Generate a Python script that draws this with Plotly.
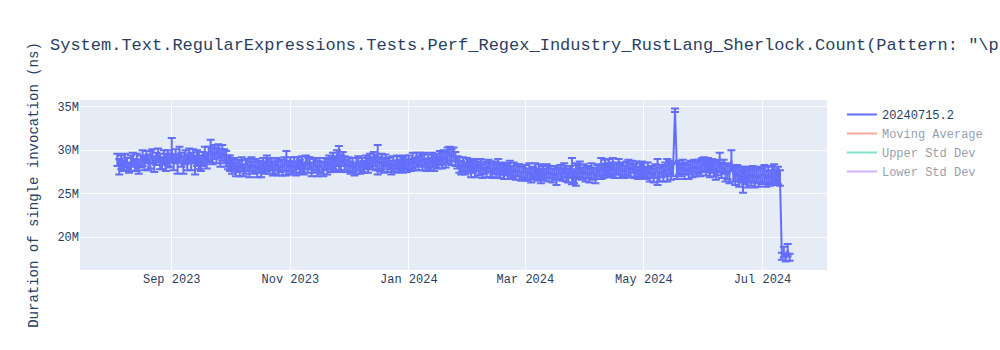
import plotly.graph_objects as go
import pandas as pd

title_text = ('System.Text.RegularExpressions.Tests.Perf_Regex_Industry_RustLang_Sherlock.Count'
              '(Pattern: "\\p{Sm}", Options: None)')
series_name = "20240715.2"

# first day of each month's daily run of measurements
month_starts = ["2023-08-04", "2023-09-01", "2023-10-01", "2023-11-01", "2023-12-01", "2024-01-01",
                "2024-02-01", "2024-03-01", "2024-04-01", "2024-05-01", "2024-06-01", "2024-07-01"]

# daily durations, millions of ns
aug = [28.9, 28.1, 28.6, 28.2, 28.8, 28.4, 28.0, 28.5, 28.9, 28.3, 28.6, 28.1, 28.7, 29.1,
       28.5, 29.2, 28.6, 28.9, 29.3, 28.4, 29.0, 29.4, 28.7, 28.5, 29.2, 28.6, 29.1, 28.8]
sep = [30.0, 28.6, 29.3, 28.4, 29.5, 28.9, 28.3, 29.2, 28.6, 29.4, 28.7, 29.3, 28.3, 29.1, 28.8,
       28.5, 29.0, 29.4, 28.8, 29.6, 29.9, 29.3, 29.8, 29.4, 29.9, 29.1, 29.7, 29.3, 29.0, 28.6]
oct_ = [28.5, 28.1, 28.4, 27.8, 28.2, 27.9, 28.4, 27.7, 28.1, 28.3, 27.8, 28.4, 28.0, 28.2, 27.8,
        28.1, 27.7, 28.3, 28.0, 28.5, 28.1, 28.4, 27.9, 28.2, 28.4, 27.9, 28.2, 28.0, 28.4, 28.5, 28.0]
nov = [28.4, 28.0, 28.3, 27.9, 28.5, 28.1, 28.4, 27.9, 28.6, 28.3, 28.5, 27.8, 28.2, 28.4, 27.9,
       28.3, 28.0, 27.8, 28.4, 28.1, 28.6, 28.3, 28.8, 28.5, 29.1, 29.0, 28.6, 29.0, 28.5, 28.2]
dec = [28.4, 28.0, 28.3, 27.8, 28.2, 28.5, 28.0, 28.3, 28.1, 28.6, 28.3, 28.8, 28.5, 29.0, 28.6,
       28.9, 28.4, 28.7, 28.2, 28.8, 28.3, 28.5, 28.0, 28.4, 28.1, 28.6, 28.2, 28.5, 28.3, 28.6, 28.2]
jan = [28.6, 28.3, 28.8, 28.4, 28.9, 28.5, 29.0, 28.6, 28.9, 28.3, 28.7, 28.4, 28.9, 28.5, 28.8,
       28.6, 29.1, 28.8, 29.2, 28.9, 29.4, 29.6, 29.2, 29.5, 29.0, 28.6, 28.3, 28.0, 28.4, 27.9, 28.3]
feb = [28.2, 27.8, 28.1, 27.7, 28.3, 27.9, 28.1, 27.6, 28.0, 27.7, 28.2, 27.8, 27.6, 28.0, 27.7,
       28.1, 27.6, 27.9, 27.5, 27.8, 27.6, 28.0, 27.5, 27.8, 27.4, 27.7, 27.5, 27.3, 27.6]
mar = [27.5, 27.2, 27.6, 27.1, 27.4, 27.7, 27.2, 27.5, 27.0, 27.4, 27.2, 27.6, 27.3, 27.5, 27.1,
       27.4, 26.9, 27.3, 27.5, 27.2, 27.7, 27.3, 27.1, 27.5, 27.6, 27.0, 27.2, 27.5, 27.8, 27.3, 27.6]
apr = [27.2, 27.5, 27.1, 27.6, 27.3, 27.0, 27.5, 27.7, 27.9, 27.6, 28.0, 27.7, 28.1, 27.8, 28.0,
       27.6, 27.9, 28.1, 27.6, 27.8, 27.5, 27.9, 28.0, 27.7, 28.1, 27.6, 27.8, 27.4, 27.7, 27.9]
may = [27.8, 27.4, 27.7, 27.2, 27.5, 27.1, 27.6, 27.5, 27.2, 27.6, 27.3, 27.8, 27.7, 28.0, 27.5,
       27.8, 34.6, 27.6, 28.0, 27.7, 28.1, 27.6, 27.9, 27.5, 28.0, 27.8, 28.2, 27.8, 28.1, 27.9, 28.3]
jun = [28.4, 28.0, 28.3, 27.8, 28.2, 27.9, 27.6, 28.0, 28.6, 27.7, 28.1, 27.4, 27.6, 27.2, 28.8,
       27.3, 27.0, 27.4, 26.8, 27.2, 26.6, 27.0, 26.7, 27.2, 26.9, 27.3, 26.7, 27.1, 26.8, 27.2]
jul = [27.0, 27.3, 26.7, 27.1, 26.8, 27.2, 27.4, 26.9, 27.1, 26.8, 17.8, 18.3, 17.6, 18.5, 17.7]

# daily error bar half-widths, millions of ns
aug_err = [0.7, 0.9, 0.8, 0.6, 0.8, 0.7, 0.6, 0.9, 0.8, 0.7, 1.0, 0.8, 0.7, 0.9,
           0.8, 0.7, 0.9, 1.0, 0.8, 0.9, 0.7, 0.8, 0.9, 0.7, 0.8, 1.0, 0.9, 0.8]
sep_err = [1.4, 0.9, 0.8, 1.1, 0.9, 0.8, 1.0, 0.8, 0.9, 0.8, 1.0, 0.8, 1.1, 0.9, 1.0,
           0.9, 0.8, 1.0, 0.9, 0.8, 1.3, 0.9, 0.8, 0.9, 0.8, 1.0, 0.9, 0.8, 0.9, 0.8]
oct_err = [0.9, 0.8, 0.7, 0.8, 0.7, 0.9, 0.8, 0.7, 0.8, 0.7, 0.9, 0.8, 0.7, 0.8, 0.9,
           0.7, 0.8, 0.8, 0.7, 0.9, 0.8, 0.7, 0.8, 0.9, 0.7, 0.8, 0.7, 0.9, 0.8, 1.4, 0.8]
nov_err = [0.8, 0.7, 0.9, 0.8, 0.7, 0.8, 0.9, 0.7, 0.8, 0.9, 0.7, 0.8, 0.8, 0.7, 0.9,
           0.8, 0.7, 0.8, 0.7, 0.9, 0.8, 0.8, 0.9, 0.8, 0.9, 1.5, 0.9, 0.8, 0.8, 0.7]
dec_err = [0.8, 0.7, 0.8, 0.7, 0.9, 0.8, 0.7, 0.8, 0.7, 0.8, 0.9, 0.8, 0.7, 0.8, 0.9,
           1.7, 0.8, 0.9, 0.8, 0.7, 0.8, 0.7, 0.8, 0.9, 0.7, 0.8, 0.7, 0.8, 0.9, 0.8, 0.7]
jan_err = [0.8, 0.7, 0.9, 0.7, 0.8, 0.8, 0.7, 0.9, 0.8, 0.7, 0.8, 0.7, 0.8, 0.9, 0.8,
           0.7, 0.8, 0.9, 0.8, 0.9, 0.9, 0.8, 0.9, 0.8, 0.8, 0.7, 0.9, 0.8, 0.8, 0.7, 0.8]
feb_err = [0.8, 0.9, 0.7, 0.8, 0.7, 0.8, 0.9, 0.8, 0.7, 0.8, 0.7, 0.9, 0.8, 0.7, 0.8,
           0.9, 0.8, 0.7, 0.8, 0.7, 0.9, 0.8, 0.7, 0.8, 0.8, 0.7, 0.9, 0.8, 0.7]
mar_err = [0.8, 0.7, 0.9, 0.8, 0.7, 0.8, 0.7, 0.9, 0.8, 0.8, 0.7, 0.8, 0.9, 0.7, 0.8,
           0.8, 0.9, 0.7, 0.8, 0.7, 0.8, 0.9, 0.8, 0.7, 1.5, 0.8, 1.3, 0.8, 0.9, 0.7, 0.8]
apr_err = [0.8, 0.7, 0.8, 0.9, 0.7, 0.8, 0.8, 0.7, 1.2, 0.8, 0.9, 0.8, 0.9, 0.8, 1.1,
           0.8, 0.7, 0.9, 0.8, 0.8, 0.7, 0.8, 0.9, 0.8, 0.7, 0.8, 0.9, 0.7, 0.8, 0.8]
may_err = [0.8, 0.7, 0.9, 0.8, 0.7, 0.8, 0.8, 1.5, 0.8, 0.7, 0.9, 0.8, 1.3, 0.8, 0.9,
           0.8, 0.2, 0.9, 0.8, 0.7, 0.8, 0.9, 0.7, 0.8, 0.8, 0.9, 0.7, 0.8, 0.8, 0.9, 0.8]
jun_err = [0.8, 0.9, 0.8, 0.9, 0.8, 0.9, 1.0, 0.9, 1.1, 0.9, 0.8, 1.0, 0.9, 1.0, 1.2,
           0.9, 1.0, 0.9, 1.0, 0.9, 1.5, 0.9, 1.0, 0.9, 1.0, 0.9, 1.0, 0.9, 1.0, 0.9]
jul_err = [0.9, 1.0, 0.9, 1.0, 0.9, 1.0, 1.0, 0.9, 1.0, 0.9, 0.4, 0.6, 0.4, 0.7, 0.4]

months = [aug, sep, oct_, nov, dec, jan, feb, mar, apr, may, jun, jul]
month_errs = [aug_err, sep_err, oct_err, nov_err, dec_err, jan_err, feb_err, mar_err,
              apr_err, may_err, jun_err, jul_err]

x, y, err = [], [], []
for start, vals, errs in zip(month_starts, months, month_errs):
    n = min(len(vals), len(errs))
    x.extend(pd.date_range(start, periods=n, freq="D"))
    y.extend(v * 1e6 for v in vals[:n])
    err.extend(e * 1e6 for e in errs[:n])

s = pd.Series(y)
moving_avg = s.rolling(10, min_periods=1).mean()
moving_std = s.rolling(10, min_periods=1).std().fillna(0)
upper = moving_avg + 2 * moving_std
lower = moving_avg - 2 * moving_std

fig = go.Figure()
fig.add_trace(go.Scatter(
    x=x, y=y, mode="lines", name=series_name,
    line=dict(color="#636efa"),
    error_y=dict(type="data", array=err, visible=True),
))
fig.add_trace(go.Scatter(x=x, y=moving_avg, mode="lines", name="Moving Average",
                         line=dict(color="#EF553B"), visible="legendonly"))
fig.add_trace(go.Scatter(x=x, y=upper, mode="lines", name="Upper Std Dev",
                         line=dict(color="#00cc96"), visible="legendonly"))
fig.add_trace(go.Scatter(x=x, y=lower, mode="lines", name="Lower Std Dev",
                         line=dict(color="#ab63fa"), visible="legendonly"))

fig.update_layout(
    width=1000, height=350,
    template="plotly",
    font=dict(family="Courier New, Liberation Mono, monospace"),
    title=dict(text=title_text),
    yaxis=dict(title=dict(text="Duration of single invocation (ns)")),
)

fig.write_html("out.html")
